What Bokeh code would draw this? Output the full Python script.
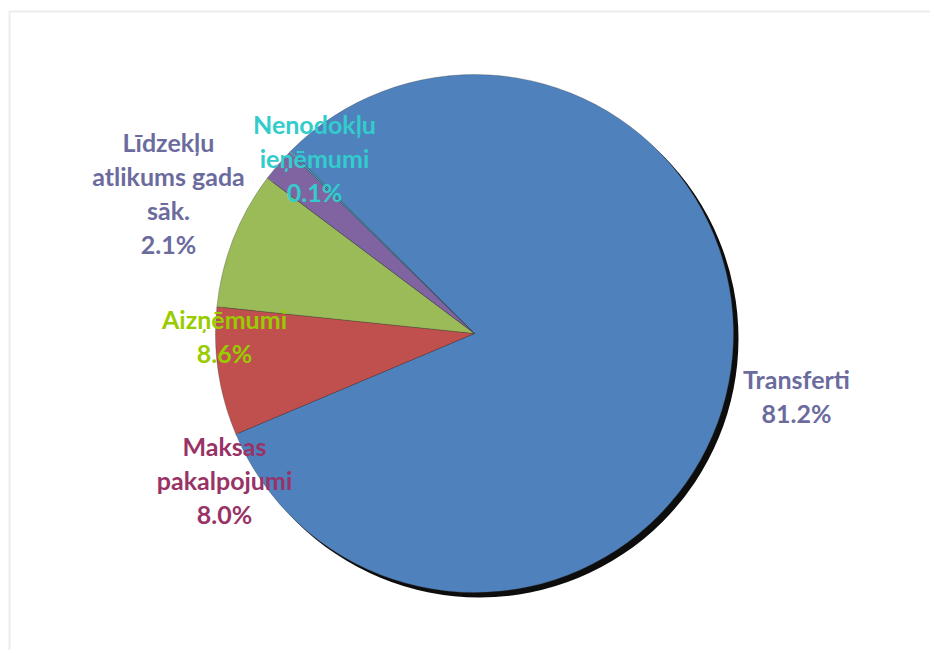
import math
from bokeh.plotting import figure
from bokeh.models import Range1d, ColumnDataSource, BoxAnnotation
from bokeh.embed import file_html
from bokeh.resources import INLINE
from bokeh.core.properties import value

# ---- data ----
categories = ["Transferti", "Maksas pakalpojumi", "Aizņēmumi",
              "Līdzekļu atlikums gada sāk.", "Nenodokļu ieņēmumi"]
shares = [81.2, 8.0, 8.6, 2.1, 0.1]
label_names = [["Transferti"], ["Maksas", "pakalpojumi"], ["Aizņēmumi"],
               ["Līdzekļu", "atlikums gada", "sāk."], ["Nenodokļu", "ieņēmumi"]]

# ---- style / layout ----
slice_colors = ["#4F81BD", "#C0504D", "#9BBB59", "#8064A2", "#4BACC6"]
label_colors = ["#6B6B9E", "#993366", "#99CC00", "#6B6B9E", "#33CCCC"]
# label anchor in page pixels (x center, y center of first line)
label_pos = [(796, 378), (224, 445), (224, 318), (168, 141), (314, 123)]
line_gap = 34
W, H = 930, 650
cx_page, cy_page, R = 474, 333, 259
first_angle_deg = 135.2
FONT = "Lato"
FSIZE = "25px"

def px(x):
    return x

def py(y):
    return H - y

p = figure(width=W, height=H, output_backend="svg", toolbar_location=None,
           x_range=Range1d(0, W), y_range=Range1d(0, H),
           x_axis_type=None, y_axis_type=None, min_border=0)
p.grid.visible = False
p.outline_line_color = None
p.background_fill_color = "white"
p.border_fill_color = "white"

# chart area border (only top/left visible in the window)
p.add_layout(BoxAnnotation(left=px(9), right=W + 20, top=py(11), bottom=-20,
                           fill_alpha=0, line_color="#C0C0C0", line_width=2))

# pie angles from data
total = sum(shares)
starts, ends = [], []
a = math.radians(first_angle_deg)
for v in shares:
    span = 2 * math.pi * v / total
    ends.append(a)
    starts.append(a - span)
    a -= span

cx, cy = px(cx_page), py(cy_page)

# shadow
p.circle(x=[cx + 5], y=[cy - 5], radius=R, fill_color="black", line_color=None, fill_alpha=0.95)

src = ColumnDataSource(dict(x=[cx] * len(shares), y=[cy] * len(shares),
                            start=starts, end=ends, color=slice_colors, cat=categories))
p.wedge(x="x", y="y", radius=R, start_angle="start", end_angle="end",
        fill_color="color", line_color="#3a3a3a", line_width=0.5, line_alpha=0.6,
        source=src)

# labels
tx, ty, tt, tc = [], [], [], []
for names, v, (lx, ly), col in zip(label_names, shares, label_pos, label_colors):
    lines = names + [f"{v:.1f}%"]
    for i, ln in enumerate(lines):
        tx.append(px(lx))
        ty.append(py(ly + i * line_gap))
        tt.append(ln)
        tc.append(col)
p.text(x=tx, y=ty, text=tt, text_color=tc, text_align="center", text_baseline="middle",
       text_font=value(FONT), text_font_size=FSIZE, text_font_style="bold")

open("out.html", "w").write(file_html(p, INLINE))
